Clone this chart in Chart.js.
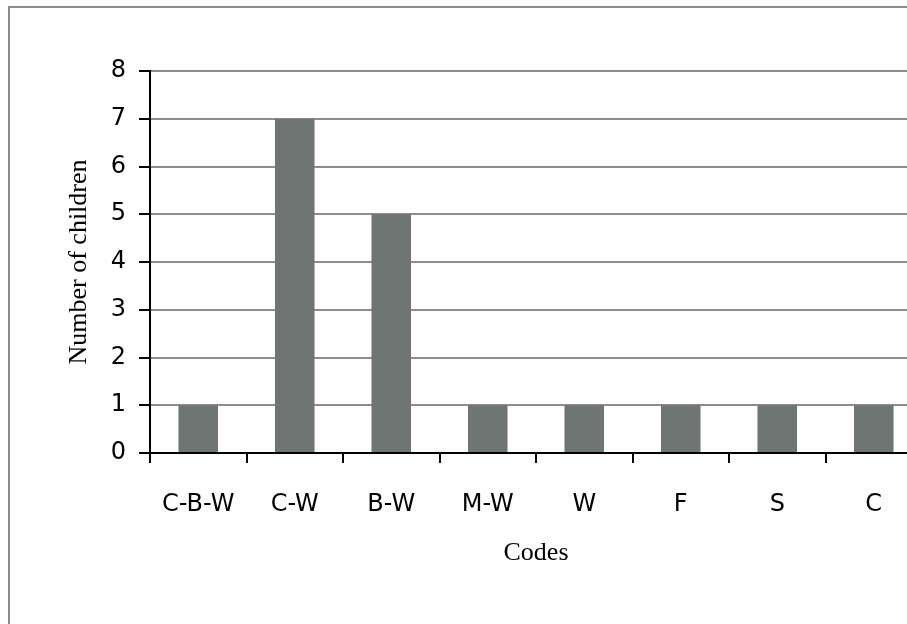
<!DOCTYPE html>
<html>
<head>
<meta charset="utf-8">
<script src="https://cdn.jsdelivr.net/npm/chart.js@4"></script>
<style>
  html, body { margin: 0; padding: 0; background: #fff; overflow: hidden; }
  #frame {
    position: absolute; left: 8px; top: 6px; width: 1000px; height: 700px;
    border-left: 2px solid #8c8c8c; border-top: 2px solid #8c8c8c;
  }
  #chart { position: absolute; left: 0; top: 0; }
</style>
</head>
<body>
<div id="frame"></div>
<canvas id="chart" width="960" height="660"></canvas>
<script>
const codes = ['C-B-W', 'C-W', 'B-W', 'M-W', 'W', 'F', 'S', 'C'];
const childCounts = [1, 7, 5, 1, 1, 1, 1, 1];
const yTicks = [0, 1, 2, 3, 4, 5, 6, 7, 8];

const labelFont = { family: 'DejaVu Sans', size: 24 };
const titleFont = { family: 'Liberation Serif', size: 26 };

new Chart(document.getElementById('chart'), {
  type: 'bar',
  data: {
    labels: codes,
    datasets: [{
      data: childCounts,
      backgroundColor: '#6f7572',
      barPercentage: 0.41,
      categoryPercentage: 1
    }]
  },
  options: {
    responsive: false,
    animation: false,
    layout: { padding: { left: 0, top: 71, right: 38, bottom: 0 } },
    plugins: { legend: { display: false }, tooltip: { enabled: false } },
    scales: {
      x: {
        offset: true,
        grid: { drawOnChartArea: false, offset: true, tickLength: 10, tickColor: '#000', lineWidth: 2 },
        border: { color: '#000', width: 2 },
        ticks: { color: '#000', font: labelFont, padding: 27, maxRotation: 0 },
        title: { display: true, text: 'Codes', color: '#000', font: titleFont, padding: { top: 0, bottom: 91 } },
        afterFit: scale => { scale.height = 207; }
      },
      y: {
        min: 0,
        max: 8,
        afterBuildTicks: scale => { scale.ticks = yTicks.map(v => ({ value: v })); },
        grid: { color: '#8c8c8c', lineWidth: 2, tickLength: 11, tickColor: '#000' },
        border: { color: '#000', width: 2 },
        ticks: { color: '#000', font: labelFont, padding: 13 },
        title: { display: true, text: 'Number of children', color: '#000', font: titleFont, padding: { top: 64, bottom: 0 } },
        afterFit: scale => { scale.width = 150; }
      }
    }
  }
});
</script>
</body>
</html>
